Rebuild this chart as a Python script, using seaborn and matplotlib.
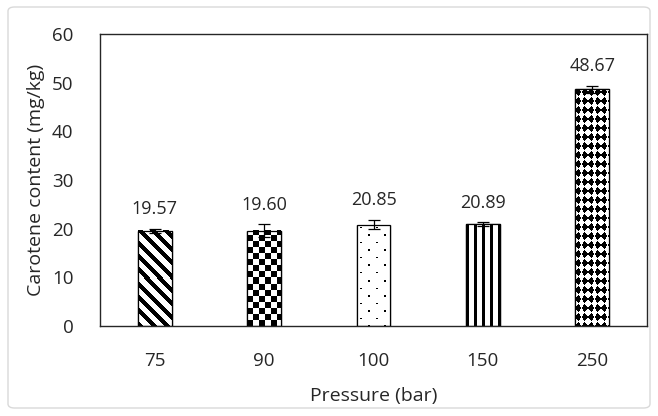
import numpy as np
import pandas as pd
import matplotlib
matplotlib.use("Agg")
import matplotlib.pyplot as plt
import seaborn as sns
from matplotlib.patches import FancyBboxPatch

pressure = ["75", "90", "100", "150", "250"]
carotene = [19.57, 19.60, 20.85, 20.89, 48.67]
errors = [0.4, 1.3, 1.0, 0.4, 0.7]
yticks = [0, 10, 20, 30, 40, 50, 60]
patterns = ["diag", "checker", "dots", "vstripe", "diamond"]

sns.set_theme(style="white")
plt.rcParams["font.family"] = ["Open Sans", "DejaVu Sans"]

TXT = "#262626"

df = pd.DataFrame({"Pressure": pressure, "Carotene": carotene})

fig = plt.figure(figsize=(6.58, 4.16), dpi=100)
ax = fig.add_axes([100 / 658, 90 / 416, 547 / 658, 292 / 416])

sns.barplot(data=df, x="Pressure", y="Carotene", hue="Pressure",
            palette=["white"] * 5, edgecolor="black", linewidth=0.9,
            width=0.31, errorbar=None, legend=False, ax=ax)

ax.set_ylim(0, 60)
ax.set_xlim(-0.5, 4.5)

patches = [p for p in ax.patches]
for p in patches:
    p.set_zorder(2)

fig.canvas.draw()

def pattern_image(p, kind):
    x0, y0 = p.get_x(), p.get_y()
    x1, y1 = x0 + p.get_width(), y0 + p.get_height()
    (px0, py0), (px1, py1) = ax.transData.transform([(x0, y0), (x1, y1)])
    nx, ny = int(round(px1 - px0)), int(round(py1 - py0))
    xx, yy = np.meshgrid(np.arange(nx) + 0.5, np.arange(ny) + 0.5)
    if kind == "checker":
        black = ((np.floor(xx / 6) + np.floor(yy / 6)) % 2) == 0
    elif kind == "diamond":
        u = np.floor(xx / 6.5 + yy / 9.0)
        v = np.floor(xx / 6.5 - yy / 9.0)
        black = ((u + v) % 2) == 0
    elif kind == "diag":
        black = ((xx + yy) % 13.3) < 6.0
    elif kind == "vstripe":
        black = (xx % 8.0) < 3.2
    else:
        yt = ny - yy
        row = np.floor(yt / 7.5)
        xs = (xx + np.where(row % 2 == 0, 0.0, 8.0)) % 16.0
        black = (np.abs(xs - 4.0) < 1.0) & (np.abs((yt % 7.5) - 3.5) < 1.0)
    img = np.where(black, 0.0, 1.0)
    ax.imshow(img, extent=[x0, x1, y0, y1], origin="lower", cmap="gray",
              vmin=0, vmax=1, aspect="auto", interpolation="nearest",
              clip_path=p, zorder=2.5)

for p, k in zip(patches, patterns):
    pattern_image(p, k)

for p in patches:
    ax.add_patch(plt.Rectangle((p.get_x(), p.get_y()), p.get_width(), p.get_height(),
                               fill=False, edgecolor="black", linewidth=0.9, zorder=3))

ax.errorbar(x=np.arange(len(pressure)), y=carotene, yerr=errors, fmt="none",
            ecolor="black", elinewidth=0.9, capsize=4, capthick=0.9, zorder=4)

for i, (v, e) in enumerate(zip(carotene, errors)):
    ax.text(i, v + e + 4.0, f"{v:.2f}", ha="center", va="center",
            fontsize=13, color=TXT)

ax.set_xlim(-0.5, 4.5)
ax.set_ylim(0, 60)
ax.set_yticks(yticks)
ax.tick_params(axis="y", length=0, labelsize=13.5, labelcolor=TXT, pad=19)
ax.tick_params(axis="x", length=0, labelsize=13.5, labelcolor=TXT, pad=19)
ax.set_xlabel("Pressure (bar)", fontsize=14, color=TXT, labelpad=12)
ax.set_ylabel("Carotene content (mg/kg)", fontsize=14, color=TXT, labelpad=5)
for s in ax.spines.values():
    s.set_visible(True)
    s.set_color(TXT)
    s.set_linewidth(1.0)

fig.patches.append(FancyBboxPatch((8 / 658, 8 / 416), 642 / 658, 401 / 416,
                                  boxstyle="round,pad=0,rounding_size=0.01",
                                  transform=fig.transFigure, fill=False,
                                  edgecolor="#d9d9d9", linewidth=1.0))

fig.savefig("out.png", dpi=100)
